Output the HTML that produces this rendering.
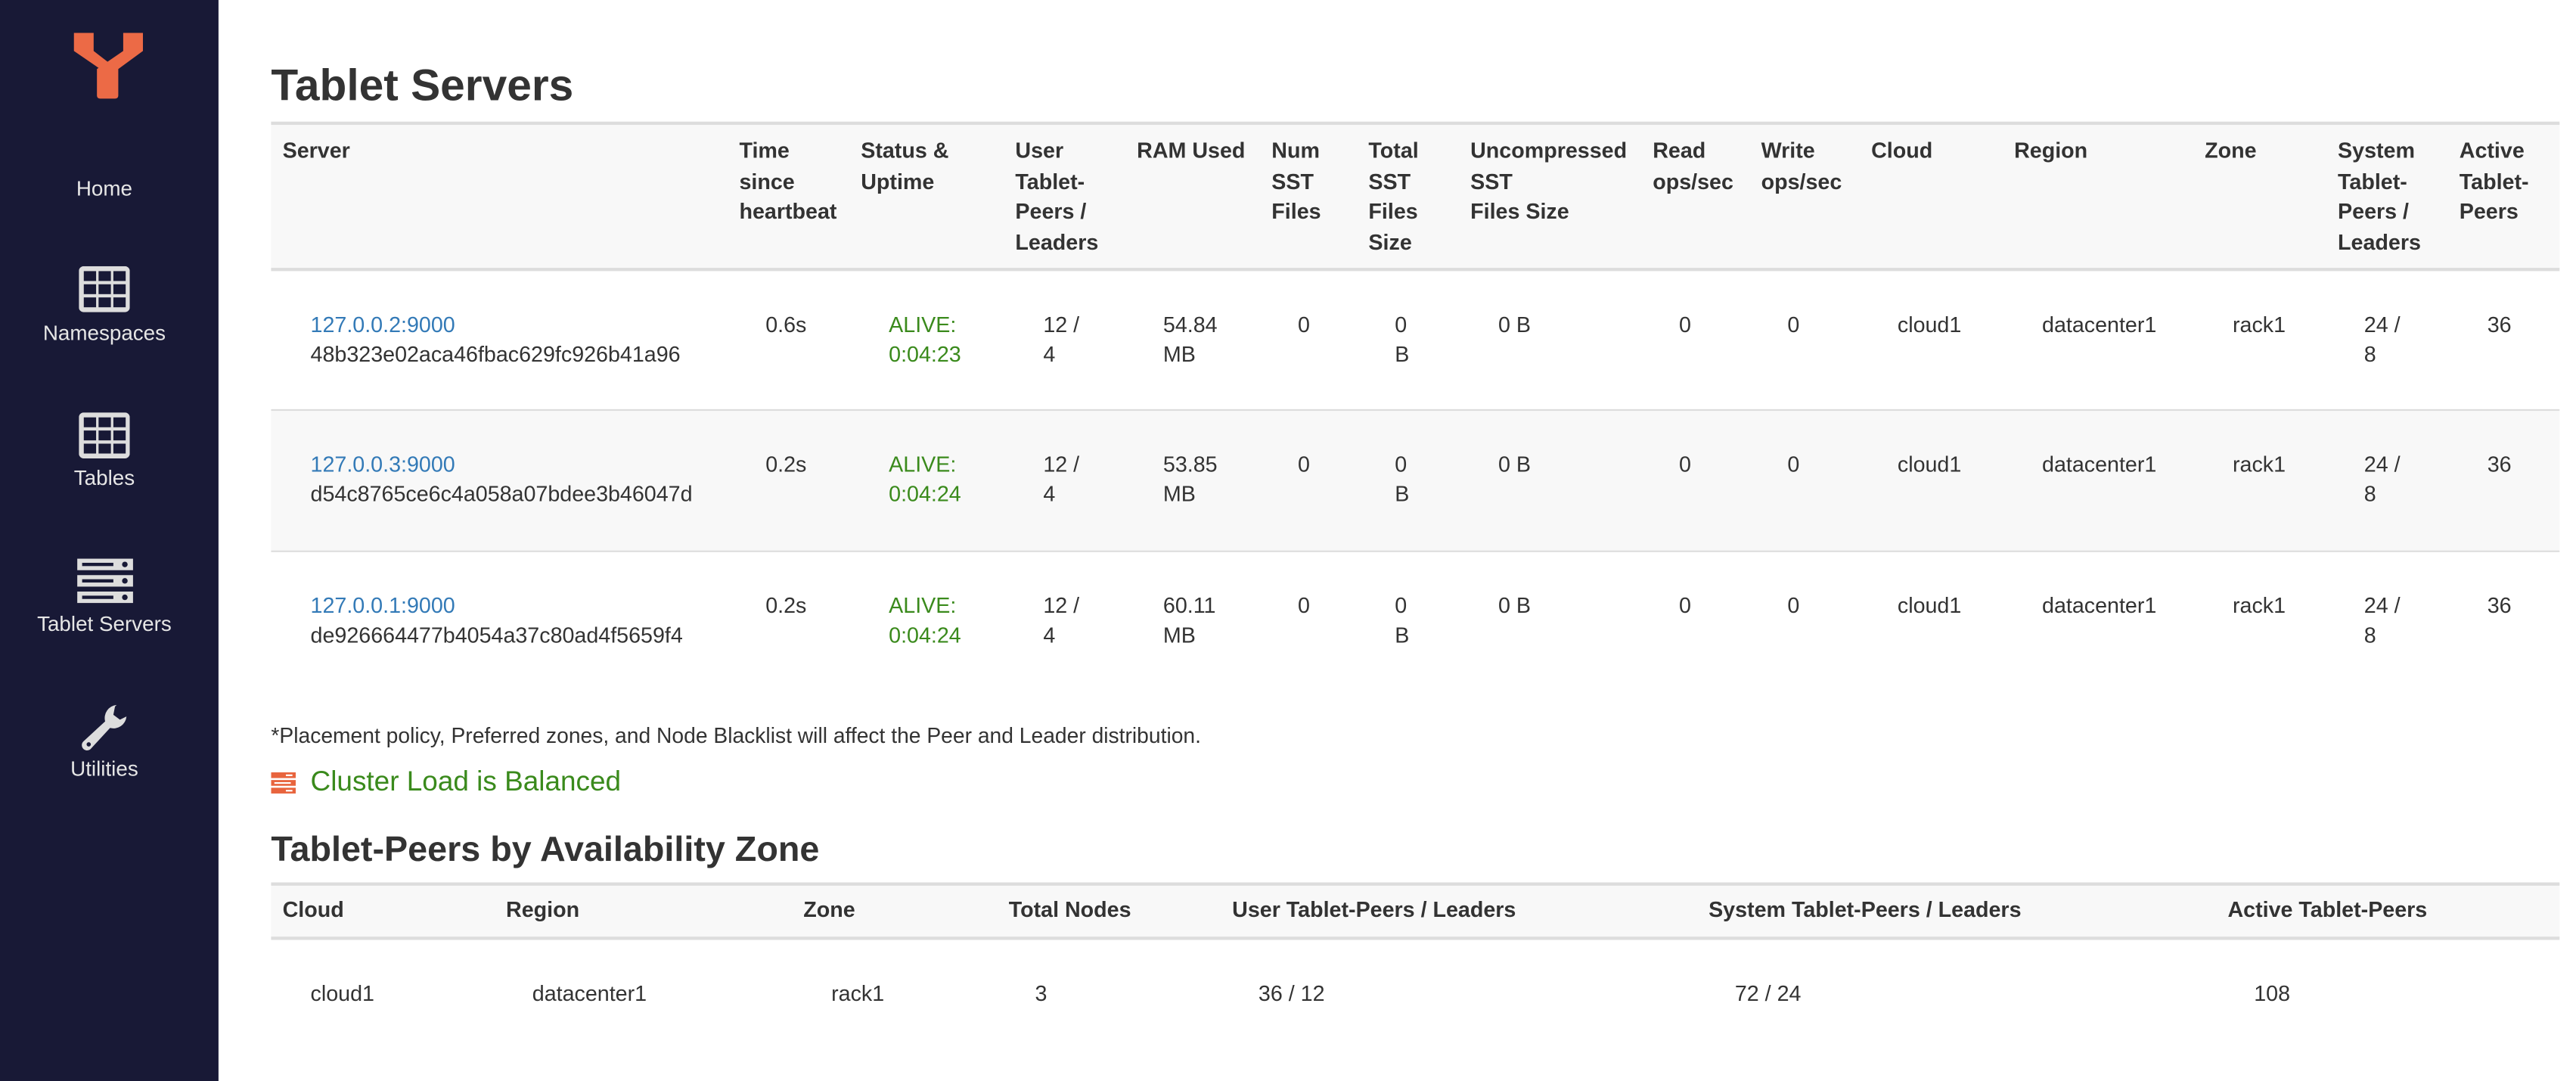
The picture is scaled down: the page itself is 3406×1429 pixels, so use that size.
<!DOCTYPE html>
<html><head><meta charset="utf-8"><style>
html,body{margin:0;padding:0;background:#fff;overflow:hidden;width:3406px;height:1428px}
#w{position:absolute;left:0;top:0;width:1568px;height:658px;transform:scale(2.17219);transform-origin:0 0;font-family:"Liberation Sans",Helvetica,Arial,sans-serif;color:#333;font-size:13.2px}
#w div{position:absolute;white-space:nowrap}
.sb{left:0;top:0;width:133px;height:658px;background:#181936}
.nav{width:127px;text-align:center;color:#e6e6e6;font-size:12.8px;line-height:16px;left:0}
.h{font-weight:bold;line-height:18.5px}
.l{line-height:18px}
.a{color:#337ab7}
.g{color:#3a8a1c}
.bg{background:#f8f8f8}
.bd{height:2px;background:#ddd}
</style></head><body><div id="w">
<div class="sb"></div>
<svg style="position:absolute;left:0;top:0" width="133" height="70" viewBox="0 0 133 70"><path d="M45 20H57V31L66 38L61 42L45 31Z" fill="#ec6a46"/><path d="M75 20H87V31L72 42V58Q72 60 70 60H61Q59 60 59 58V42L75 31Z" fill="#ec6a46"/></svg>
<div class="nav" style="top:107px">Home</div>
<svg style="position:absolute;left:48px;top:162px" width="31" height="28" viewBox="0 0 31 28"><rect x="0" y="0" width="31" height="28" rx="3" fill="#ddd"/><g fill="#181936"><rect x="3" y="3" width="7.5" height="6"/><rect x="12" y="3" width="7.5" height="6"/><rect x="21" y="3" width="7.5" height="6"/><rect x="3" y="11" width="7.5" height="6"/><rect x="12" y="11" width="7.5" height="6"/><rect x="21" y="11" width="7.5" height="6"/><rect x="3" y="19" width="7.5" height="6"/><rect x="12" y="19" width="7.5" height="6"/><rect x="21" y="19" width="7.5" height="6"/></g></svg>
<div class="nav" style="top:195px">Namespaces</div>
<svg style="position:absolute;left:48px;top:251px" width="31" height="28" viewBox="0 0 31 28"><rect x="0" y="0" width="31" height="28" rx="3" fill="#ddd"/><g fill="#181936"><rect x="3" y="3" width="7.5" height="6"/><rect x="12" y="3" width="7.5" height="6"/><rect x="21" y="3" width="7.5" height="6"/><rect x="3" y="11" width="7.5" height="6"/><rect x="12" y="11" width="7.5" height="6"/><rect x="21" y="11" width="7.5" height="6"/><rect x="3" y="19" width="7.5" height="6"/><rect x="12" y="19" width="7.5" height="6"/><rect x="21" y="19" width="7.5" height="6"/></g></svg>
<div class="nav" style="top:283px">Tables</div>
<svg style="position:absolute;left:47px;top:340px" width="34" height="27" viewBox="0 0 34 27"><g fill="#ddd"><rect y="0" width="34" height="7"/><rect y="10" width="34" height="7"/><rect y="20" width="34" height="7"/></g><g fill="#181936"><rect x="3" y="2.5" width="19" height="2"/><rect x="3" y="12.5" width="19" height="2"/><rect x="3" y="22.5" width="19" height="2"/><circle cx="29" cy="3.5" r="1.7"/><circle cx="29" cy="13.5" r="1.7"/><circle cx="29" cy="23.5" r="1.7"/></g></svg>
<div class="nav" style="top:372px">Tablet Servers</div>
<svg style="position:absolute;left:49px;top:428px" width="32" height="30" viewBox="0 0 32 30"><path d="M22 1a8 8 0 0 0-7 10L2 23a3 3 0 0 0 4 5l12-13a8 8 0 0 0 10-7l-4 2-4-3 1-5z" fill="#ddd"/><circle cx="5" cy="25" r="1.3" fill="#181936"/></svg>
<div class="nav" style="top:460px">Utilities</div>

<div style="left:165px;top:35px;font-size:27px;font-weight:bold;line-height:34px">Tablet Servers</div>
<div class="bg" style="left:165px;top:75px;width:1393px;height:89px"></div>
<div class="bd" style="left:165px;top:74px;width:1393px"></div>
<div class="bd" style="left:165px;top:163px;width:1393px"></div>
<div class="bg" style="left:165px;top:250px;width:1393px;height:85px"></div>
<div class="bd" style="left:165px;top:249px;width:1393px;height:1px"></div>
<div class="bd" style="left:165px;top:335px;width:1393px;height:1px"></div>

<div class="h" style="left:172px;top:83px">Server</div>
<div class="h" style="left:450px;top:83px">Time<br>since<br>heartbeat</div>
<div class="h" style="left:524px;top:83px">Status &amp;<br>Uptime</div>
<div class="h" style="left:618px;top:83px">User<br>Tablet-<br>Peers /<br>Leaders</div>
<div class="h" style="left:692px;top:83px">RAM Used</div>
<div class="h" style="left:774px;top:83px">Num<br>SST<br>Files</div>
<div class="h" style="left:833px;top:83px">Total<br>SST<br>Files<br>Size</div>
<div class="h" style="left:895px;top:83px">Uncompressed<br>SST<br>Files Size</div>
<div class="h" style="left:1006px;top:83px">Read<br>ops/sec</div>
<div class="h" style="left:1072px;top:83px">Write<br>ops/sec</div>
<div class="h" style="left:1139px;top:83px">Cloud</div>
<div class="h" style="left:1226px;top:83px">Region</div>
<div class="h" style="left:1342px;top:83px">Zone</div>
<div class="h" style="left:1423px;top:83px">System<br>Tablet-<br>Peers /<br>Leaders</div>
<div class="h" style="left:1497px;top:83px">Active<br>Tablet-<br>Peers</div>

<div class="l" style="left:189px;top:189px"><span class="a">127.0.0.2:9000</span><br>48b323e02aca46fbac629fc926b41a96</div>
<div class="l" style="left:466px;top:189px">0.6s</div>
<div class="l g" style="left:541px;top:189px">ALIVE:<br>0:04:23</div>
<div class="l" style="left:635px;top:189px">12 /<br>4</div>
<div class="l" style="left:708px;top:189px">54.84<br>MB</div>
<div class="l" style="left:790px;top:189px">0</div>
<div class="l" style="left:849px;top:189px">0<br>B</div>
<div class="l" style="left:912px;top:189px">0 B</div>
<div class="l" style="left:1022px;top:189px">0</div>
<div class="l" style="left:1088px;top:189px">0</div>
<div class="l" style="left:1155px;top:189px">cloud1</div>
<div class="l" style="left:1243px;top:189px">datacenter1</div>
<div class="l" style="left:1359px;top:189px">rack1</div>
<div class="l" style="left:1439px;top:189px">24 /<br>8</div>
<div class="l" style="left:1514px;top:189px">36</div>

<div class="l" style="left:189px;top:274px"><span class="a">127.0.0.3:9000</span><br>d54c8765ce6c4a058a07bdee3b46047d</div>
<div class="l" style="left:466px;top:274px">0.2s</div>
<div class="l g" style="left:541px;top:274px">ALIVE:<br>0:04:24</div>
<div class="l" style="left:635px;top:274px">12 /<br>4</div>
<div class="l" style="left:708px;top:274px">53.85<br>MB</div>
<div class="l" style="left:790px;top:274px">0</div>
<div class="l" style="left:849px;top:274px">0<br>B</div>
<div class="l" style="left:912px;top:274px">0 B</div>
<div class="l" style="left:1022px;top:274px">0</div>
<div class="l" style="left:1088px;top:274px">0</div>
<div class="l" style="left:1155px;top:274px">cloud1</div>
<div class="l" style="left:1243px;top:274px">datacenter1</div>
<div class="l" style="left:1359px;top:274px">rack1</div>
<div class="l" style="left:1439px;top:274px">24 /<br>8</div>
<div class="l" style="left:1514px;top:274px">36</div>

<div class="l" style="left:189px;top:360px"><span class="a">127.0.0.1:9000</span><br>de926664477b4054a37c80ad4f5659f4</div>
<div class="l" style="left:466px;top:360px">0.2s</div>
<div class="l g" style="left:541px;top:360px">ALIVE:<br>0:04:24</div>
<div class="l" style="left:635px;top:360px">12 /<br>4</div>
<div class="l" style="left:708px;top:360px">60.11<br>MB</div>
<div class="l" style="left:790px;top:360px">0</div>
<div class="l" style="left:849px;top:360px">0<br>B</div>
<div class="l" style="left:912px;top:360px">0 B</div>
<div class="l" style="left:1022px;top:360px">0</div>
<div class="l" style="left:1088px;top:360px">0</div>
<div class="l" style="left:1155px;top:360px">cloud1</div>
<div class="l" style="left:1243px;top:360px">datacenter1</div>
<div class="l" style="left:1359px;top:360px">rack1</div>
<div class="l" style="left:1439px;top:360px">24 /<br>8</div>
<div class="l" style="left:1514px;top:360px">36</div>

<div class="l" style="left:165px;top:439px;font-size:13px">*Placement policy, Preferred zones, and Node Blacklist will affect the Peer and Leader distribution.</div>
<svg style="position:absolute;left:165px;top:470px" width="15" height="13" viewBox="0 0 15 13"><g fill="#e8643d"><rect y="0" width="15" height="3.5"/><rect y="4.7" width="15" height="3.5"/><rect y="9.4" width="15" height="3.5"/></g><g fill="#fff"><rect x="9" y="1.3" width="4" height="1"/><rect x="2" y="6" width="10" height="1"/><rect x="9" y="10.7" width="4" height="1"/></g></svg>
<div class="g" style="left:189px;top:465px;font-size:17px;line-height:22px;font-weight:bold;font-weight:500">Cluster Load is Balanced</div>
<div style="left:165px;top:503px;font-size:21.5px;font-weight:bold;line-height:28px">Tablet-Peers by Availability Zone</div>

<div class="bg" style="left:165px;top:538px;width:1393px;height:33px"></div>
<div class="bd" style="left:165px;top:537px;width:1393px"></div>
<div class="bd" style="left:165px;top:570px;width:1393px"></div>
<div class="h" style="left:172px;top:545px">Cloud</div>
<div class="h" style="left:308px;top:545px">Region</div>
<div class="h" style="left:489px;top:545px">Zone</div>
<div class="h" style="left:614px;top:545px">Total Nodes</div>
<div class="h" style="left:750px;top:545px">User Tablet-Peers / Leaders</div>
<div class="h" style="left:1040px;top:545px">System Tablet-Peers / Leaders</div>
<div class="h" style="left:1356px;top:545px">Active Tablet-Peers</div>
<div class="l" style="left:189px;top:596px">cloud1</div>
<div class="l" style="left:324px;top:596px">datacenter1</div>
<div class="l" style="left:506px;top:596px">rack1</div>
<div class="l" style="left:630px;top:596px">3</div>
<div class="l" style="left:766px;top:596px">36 / 12</div>
<div class="l" style="left:1056px;top:596px">72 / 24</div>
<div class="l" style="left:1372px;top:596px">108</div>
</div></body></html>
